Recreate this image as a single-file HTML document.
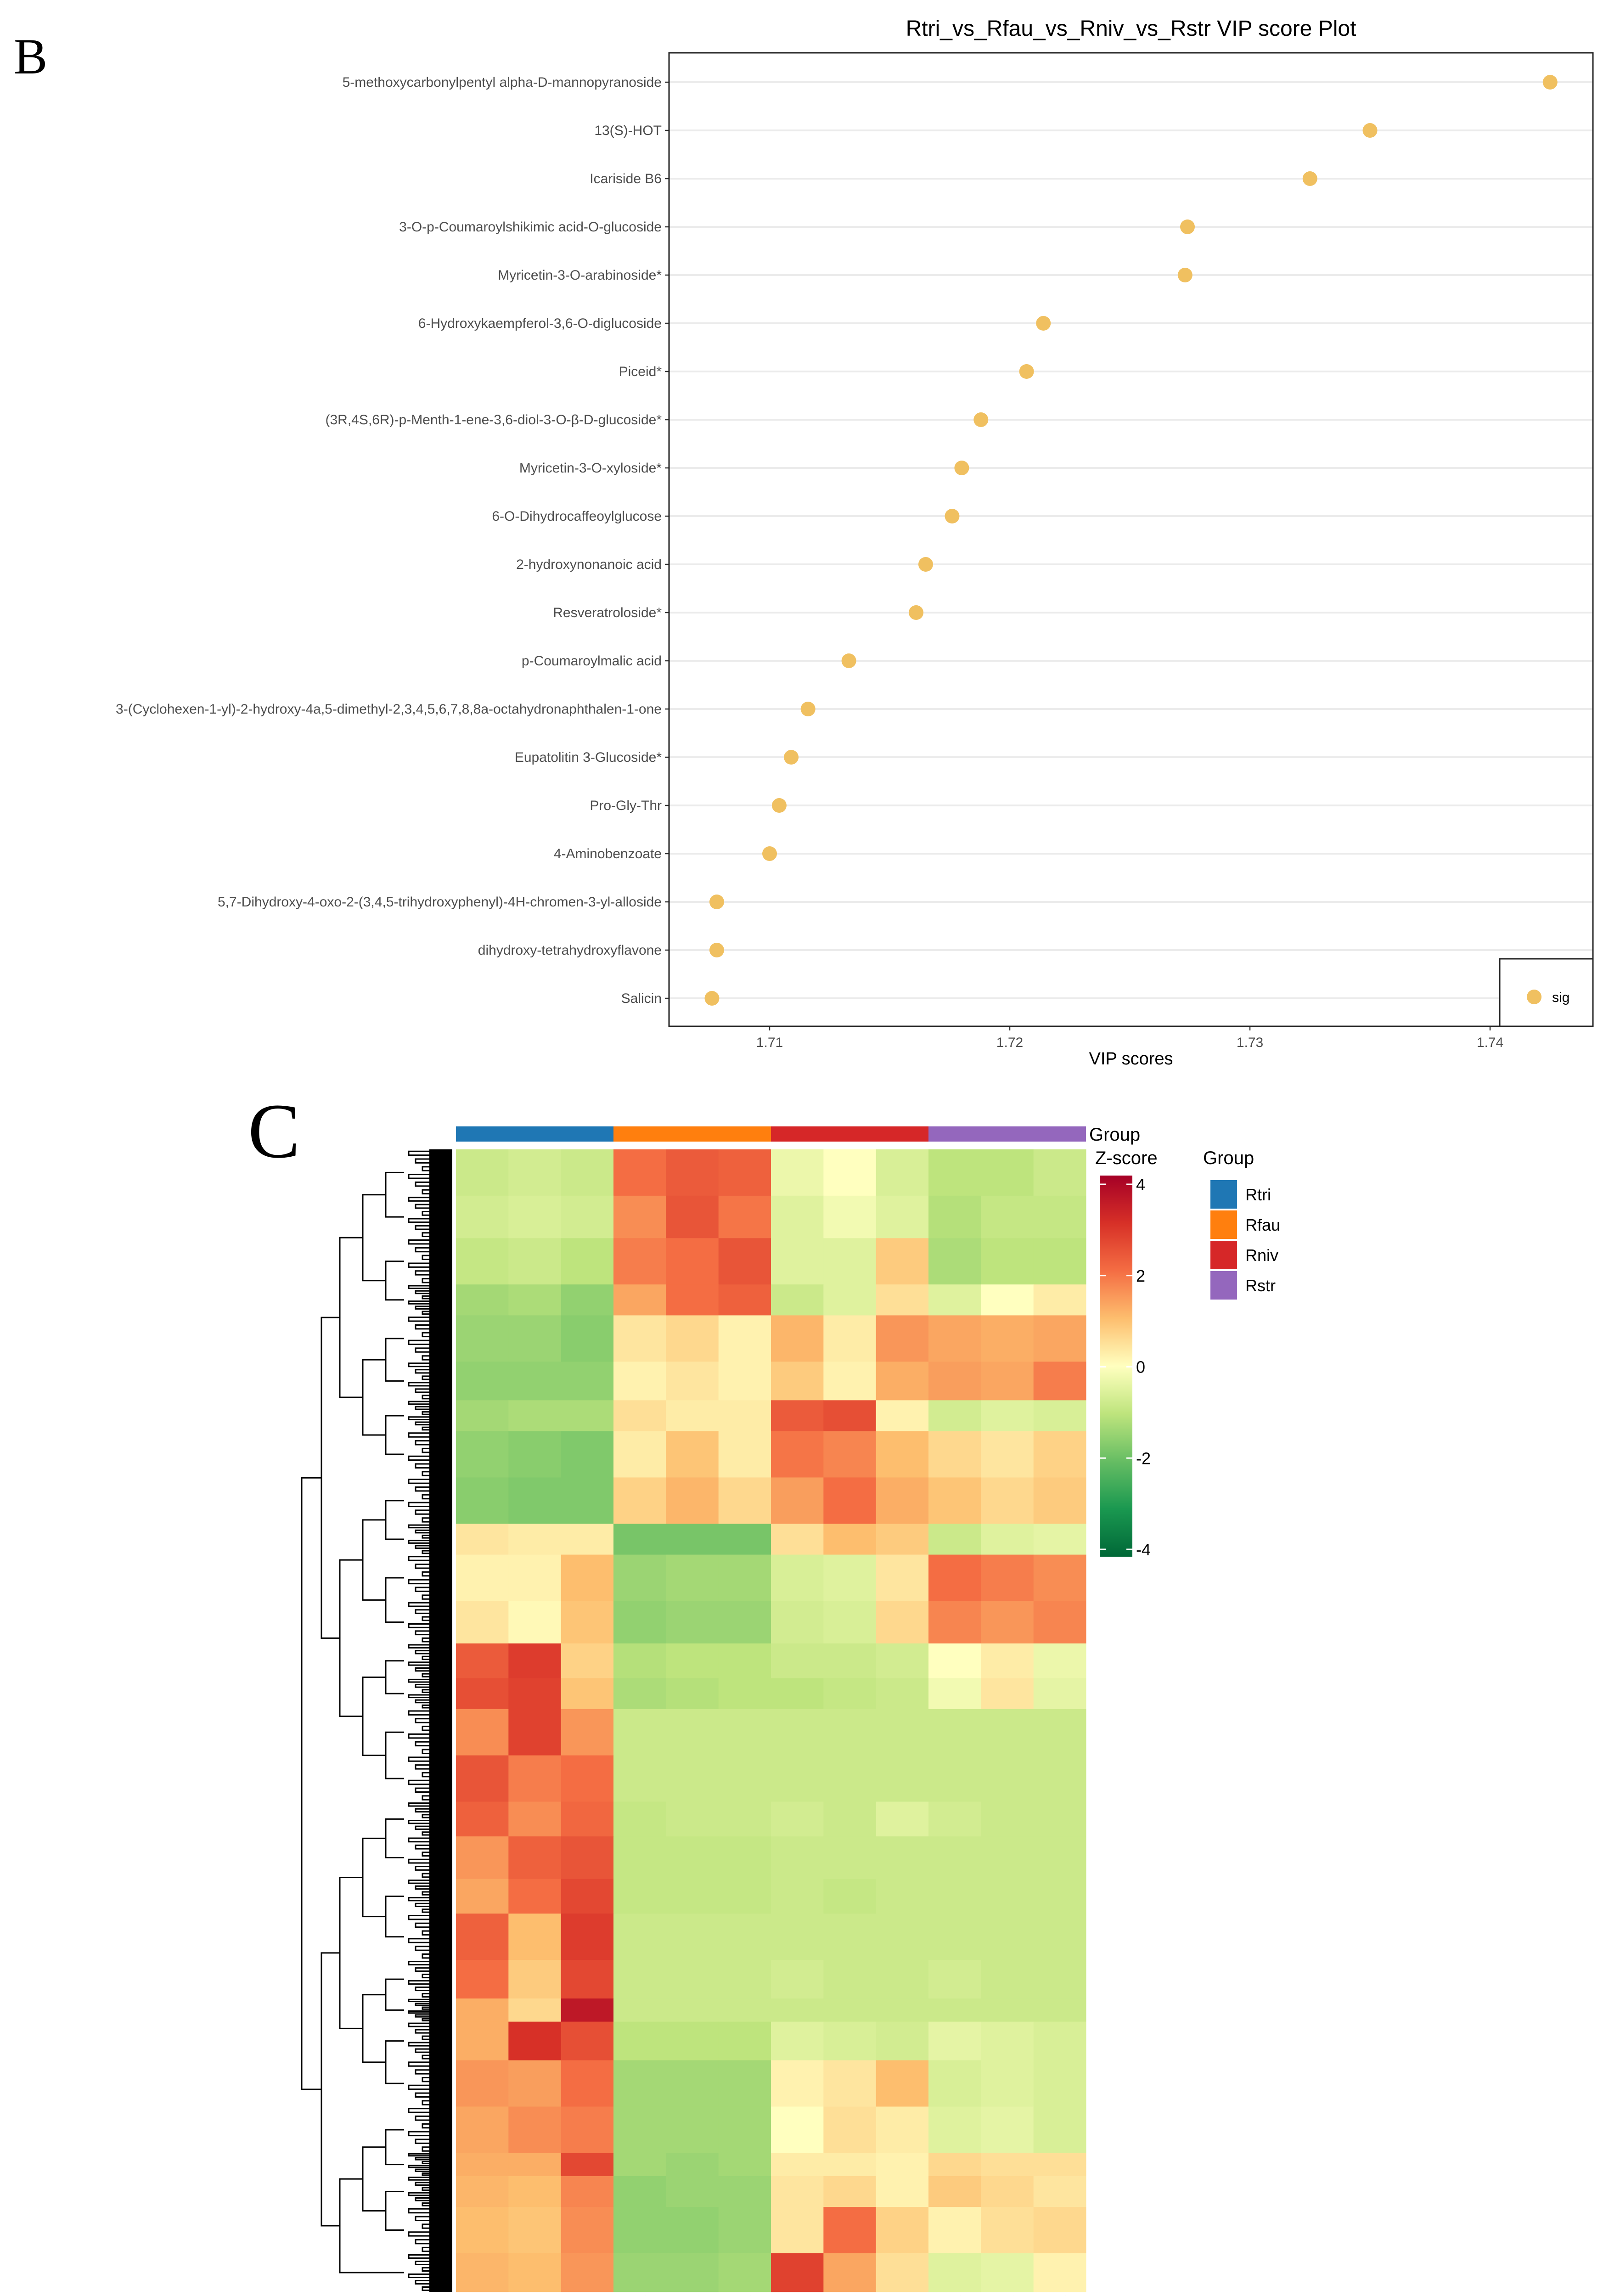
<!DOCTYPE html>
<html><head><meta charset="utf-8"><style>
html,body{margin:0;padding:0;background:#fff;width:3504px;height:5158px;overflow:hidden;}
body{position:relative;font-family:"Liberation Sans",sans-serif;}
svg{position:absolute;left:0;top:0;overflow:hidden;display:block;}
</style></head><body>
<svg id="chart" width="3504" height="5158" viewBox="0 0 3504 5158" xmlns="http://www.w3.org/2000/svg">
<text x="30" y="160" font-family="Liberation Serif,serif" font-size="110">B</text>
<text x="2463" y="78" text-anchor="middle" font-size="48">Rtri_vs_Rfau_vs_Rniv_vs_Rstr VIP score Plot</text>
<g id="vip"></g>
<text x="540" y="2520" font-family="Liberation Serif,serif" font-size="170">C</text>
<g id="heat"></g>
</svg>
<script>
const NS="http://www.w3.org/2000/svg";
const compounds=["5-methoxycarbonylpentyl alpha-D-mannopyranoside","13(S)-HOT","Icariside B6","3-O-p-Coumaroylshikimic acid-O-glucoside","Myricetin-3-O-arabinoside*","6-Hydroxykaempferol-3,6-O-diglucoside","Piceid*","(3R,4S,6R)-p-Menth-1-ene-3,6-diol-3-O-β-D-glucoside*","Myricetin-3-O-xyloside*","6-O-Dihydrocaffeoylglucose","2-hydroxynonanoic acid","Resveratroloside*","p-Coumaroylmalic acid","3-(Cyclohexen-1-yl)-2-hydroxy-4a,5-dimethyl-2,3,4,5,6,7,8,8a-octahydronaphthalen-1-one","Eupatolitin 3-Glucoside*","Pro-Gly-Thr","4-Aminobenzoate","5,7-Dihydroxy-4-oxo-2-(3,4,5-trihydroxyphenyl)-4H-chromen-3-yl-alloside","dihydroxy-tetrahydroxyflavone","Salicin"];
const vipScores=[1.7425,1.7350,1.7325,1.7274,1.7273,1.7214,1.7207,1.7188,1.7180,1.7176,1.7165,1.7161,1.7133,1.7116,1.7109,1.7104,1.7100,1.7078,1.7078,1.7076];
const xTicks=[1.71,1.72,1.73,1.74];

const groups=["Rtri","Rfau","Rniv","Rstr"];
const groupColors=["#1f77b4","#ff7f0e","#d62728","#9467bd"];
const samples=["Rtri_1","Rtri_2","Rtri_3","Rfau_1","Rfau_2","Rfau_3","Rniv_1","Rniv_2","Rniv_3","Rstr_1","Rstr_2","Rstr_3"];
const clusterSizes=[60,55,60,40,60,50,40,60,60,40,60,55,45,40,60,60,45,55,45,60,50,30,50,60,60,30,40,60,50];
const clusterValues=[
[-0.8,-0.7,-0.8,2.0,2.3,2.2,-0.3,0.0,-0.6,-1.0,-1.0,-0.8],
[-0.7,-0.6,-0.7,1.6,2.4,1.9,-0.5,-0.2,-0.5,-1.1,-0.9,-0.9],
[-0.9,-0.8,-1.0,1.8,2.0,2.4,-0.5,-0.5,0.8,-1.2,-1.0,-1.0],
[-1.3,-1.2,-1.5,1.3,2.0,2.2,-0.8,-0.5,0.5,-0.5,0.0,0.3],
[-1.4,-1.4,-1.6,0.4,0.6,0.2,1.1,0.3,1.5,1.3,1.2,1.3],
[-1.5,-1.5,-1.5,0.2,0.4,0.2,0.8,0.2,1.2,1.4,1.3,1.8],
[-1.3,-1.2,-1.2,0.5,0.3,0.3,2.3,2.5,0.2,-0.7,-0.5,-0.6],
[-1.5,-1.6,-1.7,0.3,0.9,0.3,1.9,1.7,1.0,0.6,0.4,0.7],
[-1.6,-1.7,-1.7,0.7,1.1,0.6,1.4,2.0,1.2,0.9,0.6,0.8],
[0.4,0.3,0.3,-1.8,-1.8,-1.8,0.5,1.0,0.8,-0.8,-0.5,-0.4],
[0.2,0.2,1.0,-1.4,-1.3,-1.3,-0.6,-0.5,0.4,2.0,1.8,1.6],
[0.4,0.1,0.9,-1.5,-1.4,-1.4,-0.7,-0.6,0.6,1.7,1.5,1.7],
[2.3,2.8,0.7,-1.1,-1.0,-1.0,-0.8,-0.8,-0.7,0.0,0.3,-0.3],
[2.5,2.7,0.9,-1.2,-1.1,-1.0,-1.0,-0.9,-0.8,-0.2,0.4,-0.4],
[1.6,2.7,1.5,-0.8,-0.8,-0.8,-0.8,-0.8,-0.8,-0.8,-0.8,-0.8],
[2.4,1.8,2.0,-0.8,-0.8,-0.8,-0.8,-0.8,-0.8,-0.8,-0.8,-0.8],
[2.2,1.6,2.1,-0.9,-0.8,-0.8,-0.7,-0.8,-0.5,-0.7,-0.8,-0.8],
[1.5,2.2,2.4,-0.9,-0.9,-0.9,-0.8,-0.8,-0.8,-0.8,-0.8,-0.8],
[1.3,2.0,2.6,-0.9,-0.9,-0.9,-0.8,-0.9,-0.8,-0.8,-0.8,-0.8],
[2.2,1.0,2.8,-0.8,-0.8,-0.8,-0.8,-0.8,-0.8,-0.8,-0.8,-0.8],
[2.0,0.8,2.6,-0.8,-0.8,-0.8,-0.7,-0.8,-0.8,-0.7,-0.8,-0.8],
[1.2,0.6,3.5,-0.8,-0.8,-0.8,-0.8,-0.8,-0.8,-0.8,-0.8,-0.8],
[1.2,3.0,2.5,-1.0,-1.0,-1.0,-0.5,-0.6,-0.7,-0.4,-0.5,-0.6],
[1.5,1.4,2.0,-1.3,-1.3,-1.3,0.2,0.4,1.0,-0.6,-0.5,-0.6],
[1.3,1.6,1.8,-1.3,-1.3,-1.3,0.0,0.5,0.3,-0.5,-0.4,-0.6],
[1.2,1.2,2.6,-1.3,-1.4,-1.3,0.3,0.3,0.2,0.6,0.5,0.5],
[1.1,1.0,1.7,-1.5,-1.4,-1.4,0.4,0.6,0.2,0.8,0.6,0.4],
[1.0,0.9,1.6,-1.5,-1.5,-1.4,0.4,2.0,0.7,0.2,0.5,0.6],
[1.1,1.0,1.5,-1.4,-1.4,-1.3,2.7,1.3,0.5,-0.5,-0.4,0.2]];
const zTicks=[4,2,0,-2,-4];

function el(tag,attrs,parent,text){const e=document.createElementNS(NS,tag);for(const k in attrs)e.setAttribute(k,attrs[k]);if(text!==undefined)e.textContent=text;parent.appendChild(e);return e;}

// ---- VIP plot ----
const vip=document.getElementById('vip');
const PL=1457,PR=3469,PT=115,PB=2235,ROW0=179,ROWSTEP=105;
const xScale=v=>1676+(v-1.71)*52300;
const yScale=i=>ROW0+i*ROWSTEP;
compounds.forEach((c,i)=>{
  const g=el('line',{x1:PL,x2:PR,y1:yScale(i),y2:yScale(i),stroke:'#ebebeb','stroke-width':4},vip);
  
  
  const t=el('line',{x1:PL-9,x2:PL,y1:yScale(i),y2:yScale(i),stroke:'#333','stroke-width':2.5},vip);
  
  
  const l=el('text',{x:PL-16,y:yScale(i)+10,'text-anchor':'end','font-size':30,fill:'#4d4d4d'},vip,c);
  
  
});
xTicks.forEach(v=>{
  const t=el('line',{x1:xScale(v),x2:xScale(v),y1:PB,y2:PB+9,stroke:'#333','stroke-width':2.5},vip);
  
  
  const l=el('text',{x:xScale(v),y:PB+45,'text-anchor':'middle','font-size':30,fill:'#4d4d4d'},vip,v.toFixed(2));
  
  
});
vipScores.forEach((v,i)=>{
  const d=el('circle',{cx:xScale(v),cy:yScale(i),r:16,fill:'#f0c060'},vip);
  
  
});
const frame=el('rect',{x:PL,y:PT,width:PR-PL,height:PB-PT,fill:'none',stroke:'#222','stroke-width':3},vip);


const xt=el('text',{x:2463,y:2318,'text-anchor':'middle','font-size':38},vip,'VIP scores');


const lb=el('rect',{x:3266,y:2088,width:203,height:147,fill:'#fff',stroke:'#222','stroke-width':3},vip);


const ld=el('circle',{cx:3341,cy:2171,r:16,fill:'#f0c060'},vip);


const ll=el('text',{x:3380,y:2182,'font-size':30},vip,'sig');



// ---- Heatmap ----
const heat=document.getElementById('heat');
const HL=993,HR=2365,HT=2503,HB=4991;
const colW=(HR-HL)/samples.length;
const totalRows=clusterSizes.reduce((a,b)=>a+b,0);
const rowY=r=>HT+(r/totalRows)*(HB-HT);
const stops=[[-4,[0,104,55]],[-3,[26,152,80]],[-2,[102,189,99]],[-1,[190,228,125]],[0,[255,255,191]],[1,[253,190,110]],[2,[244,109,67]],[3,[215,48,39]],[4,[165,0,38]]];
function zColor(z){z=Math.max(-4,Math.min(4,z));for(let i=0;i<stops.length-1;i++){const a=stops[i],b=stops[i+1];if(z<=b[0]){const t=(z-a[0])/(b[0]-a[0]);const c=a[1].map((v,k)=>Math.round(v+(b[1][k]-v)*t));return `rgb(${c.join(',')})`;}}return 'rgb(165,0,38)';}
groups.forEach((g,i)=>{
  const r=el('rect',{x:HL+i*3*colW,y:2453,width:3*colW,height:33,fill:groupColors[i]},heat);
  
  
});
const gl=el('text',{x:2372,y:2484,'font-size':40},heat,'Group');


let acc=0;
const mids=[];
clusterSizes.forEach((n,ci)=>{
  const y0=rowY(acc),y1=rowY(acc+n);
  mids.push((y0+y1)/2);
  clusterValues[ci].forEach((v,j)=>{
    const c=el('rect',{x:HL+j*colW,y:y0,width:colW+0.5,height:y1-y0+0.5,fill:zColor(v)},heat);
    
    
  });
  acc+=n;
});
const dg=el('g',{stroke:'#000','stroke-width':3,fill:'none'},heat);


const dense=el('rect',{x:935,y:HT,width:50,height:HB-HT,fill:'#000',stroke:'none'},dg);


acc=0;
clusterSizes.forEach((n)=>{
  const y0=rowY(acc),y1=rowY(acc+n),k=6;
  for(let s=0;s<k;s++){
    const ya=y0+(s+0.25)*(y1-y0)/k,yb=y0+(s+0.75)*(y1-y0)/k,x=890+(s%3)*15;
    el('path',{d:`M935 ${ya}H${x}V${yb}H935`},dg);
  }
  acc+=n;
});
let nodes=mids.map(m=>({y:m,x:880}));
let level=0;
const levelX=[840,790,740,700,657];
while(nodes.length>1){
  const nx=levelX[Math.min(level,levelX.length-1)];
  const next=[];
  for(let i=0;i<nodes.length;i+=2){
    if(i+1<nodes.length){
      const a=nodes[i],b=nodes[i+1];
      el('path',{d:`M${a.x} ${a.y}H${nx}V${b.y}H${b.x}`},dg);
      next.push({x:nx,y:(a.y+b.y)/2});
    } else next.push(nodes[i]);
  }
  nodes=next;level++;
}
samples.forEach((s,j)=>{
  const x=HL+(j+0.5)*colW-10,y=5012;
  const t=el('text',{x:x,y:y,'font-size':37,transform:`rotate(55 ${x} ${y})`},heat,s);
  
  
});
const defs=el('defs',{},heat);
const grad=el('linearGradient',{id:'zg',x1:0,y1:0,x2:0,y2:1},defs);
for(let z=4;z>=-4;z-=0.5){el('stop',{offset:((4-z)/8),'stop-color':zColor(z)},grad);}
const CB_T=2579,CB_B=3374,zY=z=>CB_T+(4-z)/8*(CB_B-CB_T);
const zt=el('text',{x:2385,y:2535,'font-size':40},heat,'Z-score');


const cb=el('rect',{x:2395,y:2560,width:71,height:830,fill:'url(#zg)'},heat);


zTicks.forEach(z=>{
  el('line',{x1:2395,x2:2408,y1:zY(z),y2:zY(z),stroke:'#fff','stroke-width':3},heat);
  el('line',{x1:2453,x2:2466,y1:zY(z),y2:zY(z),stroke:'#fff','stroke-width':3},heat);
  const t=el('text',{x:2474,y:zY(z)+13,'font-size':36},heat,String(z));
  
  
});
const gt=el('text',{x:2620,y:2535,'font-size':40},heat,'Group');


groups.forEach((g,i)=>{
  const y=2570+i*66;
  const k=el('rect',{x:2636,y:y,width:58,height:62,fill:groupColors[i]},heat);
  
  
  const t=el('text',{x:2712,y:y+44,'font-size':36},heat,g);
  
  
});
</script>
</body></html>
